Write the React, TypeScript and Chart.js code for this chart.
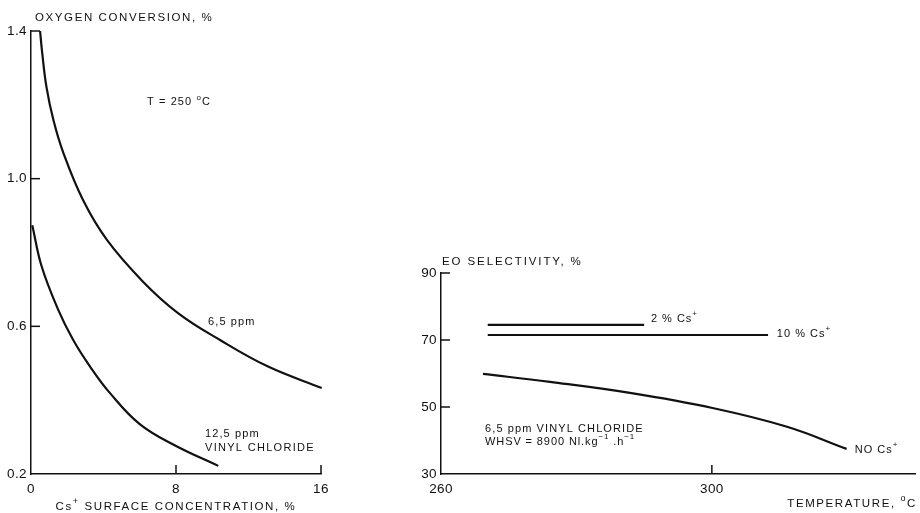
import React, { useEffect, useRef } from 'react';
import { Chart, registerables } from 'chart.js';

Chart.register(...registerables);

// ---------- Left panel: oxygen conversion vs Cs+ surface concentration ----------
const csTicks = [0, 8, 16];
const convTicks = [0.2, 0.6, 1.0, 1.4];
const conv65X = [0.5, 0.62, 0.855, 1.24, 1.79, 2.87, 4.19, 6.18, 8.11, 10.43, 13.08, 16.04];
const conv65Y = [1.4, 1.34, 1.248, 1.158, 1.069, 0.942, 0.834, 0.721, 0.636, 0.563, 0.491, 0.433];
const conv125X = [0.07, 0.59, 1.51, 2.33, 3.26, 4.36, 6.0, 7.95, 10.33];
const conv125Y = [0.874, 0.762, 0.644, 0.563, 0.491, 0.419, 0.335, 0.277, 0.222];

// ---------- Right panel: EO selectivity vs temperature ----------
const tempTicks = [260, 300];
const selTicks = [30, 50, 70, 90];
const sel2CsT = [266.9, 290.0];
const sel2CsY = [74.5, 74.5];
const sel10CsT = [266.9, 308.3];
const sel10CsY = [71.5, 71.5];
const selNoCsT = [266.2, 276.1, 287.9, 300.1, 311.1, 319.9];
const selNoCsY = [59.9, 57.5, 54.2, 49.7, 44.1, 37.5];

const INK = '#111111';
const FONT = '"Liberation Sans", Arial, Helvetica, sans-serif';

type Part = { t: string; sup?: boolean };
type Note = { x: number; y: number; parts: Part[]; size: number; spacing: number };

const leftNotes: Note[] = [
  { x: 6.4, y: 1.21, parts: [{ t: 'T = 250 ' }, { t: 'o', sup: true }, { t: 'C' }], size: 11, spacing: 1.1 },
  { x: 9.77, y: 0.615, parts: [{ t: '6,5 ppm' }], size: 11, spacing: 1.1 },
  { x: 9.6, y: 0.312, parts: [{ t: '12,5 ppm' }], size: 11, spacing: 1.1 },
  { x: 9.6, y: 0.274, parts: [{ t: 'VINYL CHLORIDE' }], size: 11, spacing: 1.3 },
];

const rightNotes: Note[] = [
  { x: 291.0, y: 76.7, parts: [{ t: '2 % Cs' }, { t: '+', sup: true }], size: 11, spacing: 1.0 },
  { x: 309.6, y: 72.2, parts: [{ t: '10 % Cs' }, { t: '+', sup: true }], size: 11, spacing: 1.0 },
  { x: 321.1, y: 37.6, parts: [{ t: 'NO Cs' }, { t: '+', sup: true }], size: 11, spacing: 1.0 },
  { x: 266.5, y: 43.8, parts: [{ t: '6,5 ppm VINYL CHLORIDE' }], size: 11, spacing: 1.1 },
  {
    x: 266.5,
    y: 39.9,
    parts: [{ t: 'WHSV = 8900 Nl.kg' }, { t: '\u22121', sup: true }, { t: ' .h' }, { t: '\u22121', sup: true }],
    size: 11,
    spacing: 0.9,
  },
];

function drawRich(
  ctx: CanvasRenderingContext2D,
  x: number,
  yMid: number,
  parts: Part[],
  size: number,
  spacing: number,
  align: 'left' | 'center' | 'right'
) {
  const fontFor = (sup?: boolean) => `${sup ? Math.round(size * 0.75) : size}px ${FONT}`;
  (ctx as any).letterSpacing = `${spacing}px`;
  const widths = parts.map((p) => {
    ctx.font = fontFor(p.sup);
    return ctx.measureText(p.t).width;
  });
  const total = widths.reduce((a, b) => a + b, 0);
  let cx = align === 'left' ? x : align === 'right' ? x - total : x - total / 2;
  const base = yMid + size * 0.36;
  ctx.textAlign = 'left';
  ctx.textBaseline = 'alphabetic';
  parts.forEach((p, i) => {
    ctx.font = fontFor(p.sup);
    ctx.fillText(p.t, cx, p.sup ? base - size * 0.5 : base);
    cx += widths[i];
  });
}

type PanelOpts = {
  datasets: { xs: number[]; ys: number[]; smooth: boolean }[];
  xTicks: number[];
  yTicks: number[];
  xMin: number;
  xMax: number;
  yMin: number;
  yMax: number;
  yDecimals: number;
  yAxisWidth: number;
  padding: { left: number; top: number; right: number; bottom: number };
  notes: Note[];
  yTitle: Part[];
  xTitle: Part[];
  yTitleDx: number;
  yTitleDy: number;
  yTitleSpacing: number;
  xTitleAlign: 'center' | 'right';
  xTitleDx: number;
  xTitleDy: number;
};

function buildConfig(o: PanelOpts): any {
  const panelPlugin = {
    id: 'panelDeco',
    beforeDraw(chart: any) {
      chart.ctx.letterSpacing = '0.4px';
    },
    afterDraw(chart: any) {
      const ctx: CanvasRenderingContext2D = chart.ctx;
      const area = chart.chartArea;
      const xs = chart.scales.x;
      const ys = chart.scales.y;
      ctx.save();
      ctx.strokeStyle = INK;
      ctx.fillStyle = INK;
      ctx.lineWidth = 1.5;
      // inward tick marks
      ys.ticks.forEach((t: any) => {
        const py = ys.getPixelForValue(t.value);
        if (Math.abs(py - area.bottom) < 1) return;
        ctx.beginPath();
        ctx.moveTo(area.left, py);
        ctx.lineTo(area.left + 9, py);
        ctx.stroke();
      });
      xs.ticks.forEach((t: any) => {
        const px = xs.getPixelForValue(t.value);
        if (Math.abs(px - area.left) < 1) return;
        ctx.beginPath();
        ctx.moveTo(px, area.bottom);
        ctx.lineTo(px, area.bottom - 9);
        ctx.stroke();
      });
      // titles
      drawRich(ctx, area.left + o.yTitleDx, area.top + o.yTitleDy, o.yTitle, 11.5, o.yTitleSpacing, 'left');
      const tx = o.xTitleAlign === 'center' ? (area.left + area.right) / 2 + o.xTitleDx : area.right + o.xTitleDx;
      drawRich(ctx, tx, area.bottom + o.xTitleDy, o.xTitle, 11.5, 1.6, o.xTitleAlign);
      // annotations
      o.notes.forEach((n) => {
        drawRich(ctx, xs.getPixelForValue(n.x), ys.getPixelForValue(n.y), n.parts, n.size, n.spacing, 'left');
      });
      ctx.restore();
    },
  };

  return {
    type: 'line',
    data: {
      datasets: o.datasets.map((d) => ({
        data: d.xs.map((x, i) => ({ x, y: d.ys[i] })),
        borderColor: INK,
        borderWidth: 2.2,
        pointRadius: 0,
        fill: false,
        tension: d.smooth ? 0.4 : 0,
        clip: false,
      })),
    },
    options: {
      animation: false,
      responsive: false,
      events: [],
      layout: { padding: o.padding },
      plugins: { legend: { display: false }, tooltip: { enabled: false } },
      scales: {
        x: {
          type: 'linear',
          min: o.xMin,
          max: o.xMax,
          afterBuildTicks: (s: any) => {
            s.ticks = o.xTicks.map((v) => ({ value: v }));
          },
          afterFit: (s: any) => {
            s.height = 39;
          },
          grid: { display: false, drawTicks: false },
          border: { display: true, color: INK, width: 1.5 },
          ticks: {
            color: INK,
            padding: 7,
            maxRotation: 0,
            autoSkip: false,
            font: { family: FONT, size: 13.5 },
            callback: (v: any) => String(v),
          },
        },
        y: {
          type: 'linear',
          min: o.yMin,
          max: o.yMax,
          afterBuildTicks: (s: any) => {
            s.ticks = o.yTicks.map((v) => ({ value: v }));
          },
          afterFit: (s: any) => {
            s.width = o.yAxisWidth;
          },
          grid: { display: false, drawTicks: false },
          border: { display: true, color: INK, width: 1.5 },
          ticks: {
            color: INK,
            padding: 4,
            autoSkip: false,
            font: { family: FONT, size: 13.5 },
            callback: (v: any) => Number(v).toFixed(o.yDecimals),
          },
        },
      },
    },
    plugins: [panelPlugin],
  };
}

function Panel({ left, width, opts }: { left: number; width: number; opts: PanelOpts }) {
  const ref = useRef<HTMLCanvasElement>(null);
  useEffect(() => {
    const chart = new Chart(ref.current as HTMLCanvasElement, buildConfig(opts));
    return () => chart.destroy();
  }, []);
  return (
    <canvas
      ref={ref}
      width={width}
      height={513}
      style={{ position: 'absolute', left, top: 0, width, height: 513 }}
    />
  );
}

const leftOpts: PanelOpts = {
  datasets: [
    { xs: conv65X, ys: conv65Y, smooth: true },
    { xs: conv125X, ys: conv125Y, smooth: true },
  ],
  xTicks: csTicks,
  yTicks: convTicks,
  xMin: 0,
  xMax: 16,
  yMin: 0.2,
  yMax: 1.4,
  yDecimals: 1,
  yAxisWidth: 31,
  padding: { left: 0, top: 31, right: 119, bottom: 0 },
  notes: leftNotes,
  yTitle: [{ t: 'OXYGEN CONVERSION, %' }],
  xTitle: [{ t: 'Cs' }, { t: '+', sup: true }, { t: ' SURFACE CONCENTRATION, %' }],
  yTitleDx: 4,
  yTitleDy: -14,
  yTitleSpacing: 1.6,
  xTitleAlign: 'center',
  xTitleDx: 0,
  xTitleDy: 32,
};

const rightOpts: PanelOpts = {
  datasets: [
    { xs: sel2CsT, ys: sel2CsY, smooth: false },
    { xs: sel10CsT, ys: sel10CsY, smooth: false },
    { xs: selNoCsT, ys: selNoCsY, smooth: true },
  ],
  xTicks: tempTicks,
  yTicks: selTicks,
  xMin: 260,
  xMax: 330,
  yMin: 30,
  yMax: 90,
  yDecimals: 0,
  yAxisWidth: 41,
  padding: { left: 0, top: 273, right: 5, bottom: 0 },
  notes: rightNotes,
  yTitle: [{ t: 'EO SELECTIVITY, %' }],
  xTitle: [{ t: 'TEMPERATURE, ' }, { t: 'o', sup: true }, { t: 'C' }],
  yTitleDx: 1,
  yTitleDy: -12,
  yTitleSpacing: 1.9,
  xTitleAlign: 'right',
  xTitleDx: 2,
  xTitleDy: 29,
};

export default function App() {
  return (
    <div style={{ position: 'absolute', left: 0, top: 0, width: 920, height: 513, background: '#fff' }}>
      <Panel left={0} width={440} opts={leftOpts} />
      <Panel left={400} width={520} opts={rightOpts} />
    </div>
  );
}
